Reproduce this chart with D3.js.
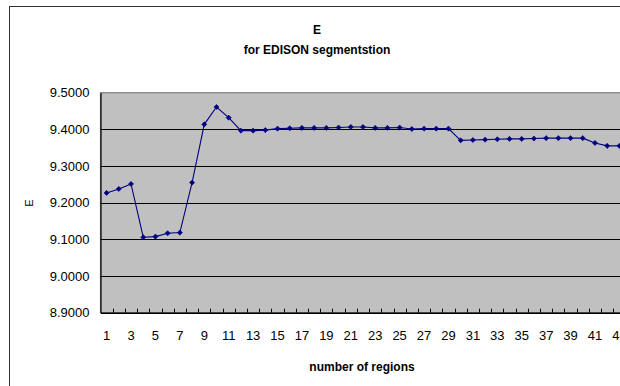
<!DOCTYPE html>
<html><head><meta charset="utf-8">
<script src="https://cdn.jsdelivr.net/npm/d3@7"></script>
<style>html,body{margin:0;padding:0;background:#fff;overflow:hidden}svg{display:block;font-family:"Liberation Sans",Arial,sans-serif}</style>
</head><body>
<script>
const categories = d3.range(1, 44);
const values = [9.2267, 9.2376, 9.2512, 9.1058, 9.1076, 9.1166, 9.1185, 9.2548, 9.4137, 9.4610,
  9.4319, 9.3965, 9.3965, 9.3980, 9.4020, 9.4030, 9.4040, 9.4040, 9.4040, 9.4050,
  9.4065, 9.4065, 9.4040, 9.4040, 9.4050, 9.4010, 9.4020, 9.4020, 9.4020, 9.3700,
  9.3710, 9.3720, 9.3730, 9.3740, 9.3740, 9.3750, 9.3760, 9.3760, 9.3760, 9.3760,
  9.3630, 9.3550, 9.3550];
const yTicks = [8.9, 9.0, 9.1, 9.2, 9.3, 9.4, 9.5];
const xTickLabels = categories.filter(c => c % 2 === 1);
const title = "E";
const subtitle = "for EDISON segmentstion";
const xTitle = "number of regions";
const yTitle = "E";

const W = 620, H = 386;
const svg = d3.select("body").append("svg").attr("width", W).attr("height", H);

// chart frame
svg.append("rect").attr("x", 9.5).attr("y", 6.5).attr("width", 700).attr("height", 500)
  .attr("fill", "#fff").attr("stroke", "#333").attr("stroke-width", 1);

const pLeft = 100.5, pRight = 625.5, pTop = 92.7, pBottom = 312.7;
const x = d3.scaleBand().domain(categories).range([pLeft, pRight]).padding(0);
const y = d3.scaleLinear().domain([8.9, 9.5]).range([pBottom, pTop]);

// plot area
svg.append("rect").attr("x", pLeft).attr("y", pTop).attr("width", pRight - pLeft).attr("height", pBottom - pTop)
  .attr("fill", "#c0c0c0").attr("stroke", "#808080").attr("stroke-width", 1.2);

// gridlines
svg.append("g").selectAll("line").data(yTicks.slice(1, -1)).join("line")
  .attr("x1", pLeft).attr("x2", pRight)
  .attr("y1", d => Math.round(y(d)) + 0.5).attr("y2", d => Math.round(y(d)) + 0.5)
  .attr("stroke", "#000").attr("stroke-width", 1);

// y axis
const yAxis = d3.axisLeft(y).tickValues(yTicks).tickFormat(d3.format(".4f")).tickSize(0).tickPadding(11);
const gy = svg.append("g").attr("transform", `translate(${pLeft},0)`).call(yAxis);
gy.select(".domain").attr("stroke", "#000").attr("stroke-width", 1.2);
gy.selectAll("text").attr("font-size", 13).attr("fill", "#000").attr("font-family", '"Liberation Sans",Arial,sans-serif');

// x axis
const xAxis = d3.axisBottom(x).tickValues(xTickLabels).tickSize(0).tickPadding(18);
const gx = svg.append("g").attr("transform", `translate(0,${pBottom})`).call(xAxis);
gx.select(".domain").attr("stroke", "#000").attr("stroke-width", 1.4);
gx.selectAll("text").attr("font-size", 13).attr("fill", "#000").attr("font-family", '"Liberation Sans",Arial,sans-serif');

// inside tick marks at category boundaries
svg.append("g").selectAll("line").data(categories.slice(1)).join("line")
  .attr("x1", d => Math.round(x(d)) + 0.5).attr("x2", d => Math.round(x(d)) + 0.5)
  .attr("y1", pBottom).attr("y2", pBottom - 4)
  .attr("stroke", "#000").attr("stroke-width", 1);

// line
const line = d3.line().x((d, i) => x(categories[i]) + x.bandwidth() / 2).y(d => y(d));
svg.append("path").datum(values).attr("d", line).attr("fill", "none")
  .attr("stroke", "#000080").attr("stroke-width", 1.1);

// markers (square diamonds)
const sym = d3.symbol().type(d3.symbolSquare).size(13);
svg.append("g").selectAll("path").data(values).join("path")
  .attr("transform", (d, i) => `translate(${x(categories[i]) + x.bandwidth() / 2},${y(d)}) rotate(45)`)
  .attr("d", sym).attr("fill", "#000080").attr("stroke", "#000080").attr("stroke-width", 0.6);

// titles
svg.append("text").attr("x", 317).attr("y", 34).attr("text-anchor", "middle")
  .attr("font-size", 12).attr("font-weight", "bold").text(title);
svg.append("text").attr("x", 317).attr("y", 54).attr("text-anchor", "middle")
  .attr("font-size", 12).attr("font-weight", "bold").text(subtitle);
svg.append("text").attr("x", 362).attr("y", 371).attr("text-anchor", "middle")
  .attr("font-size", 12).attr("font-weight", "bold").text(xTitle);
svg.append("text").attr("transform", "translate(33,203) rotate(-90)").attr("text-anchor", "middle")
  .attr("font-size", 11).attr("font-weight", "normal").text(yTitle);
</script>
</body></html>
